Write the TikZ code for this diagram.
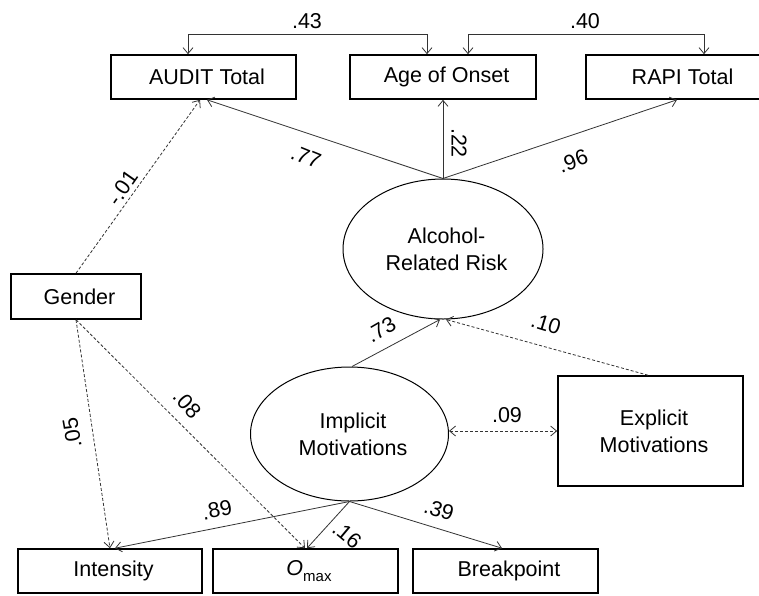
\documentclass[tikz,border=0pt]{standalone}
\usepackage{fontspec}
\setmainfont{Liberation Sans}
\usetikzlibrary{arrows.meta,shapes.geometric}
\newcommand{\rsh}{\hspace*{7pt}}
\begin{document}
\begin{tikzpicture}[x=1pt,y=-1pt,
  font=\fontsize{21.5}{27}\selectfont,
  >={Straight Barb[length=6pt,width=10pt]},
  box/.style={draw=black, line width=1.6pt, rectangle, inner sep=0pt,
    minimum width=185pt, minimum height=44pt, align=center},
  lat/.style={draw=black, line width=1pt, ellipse, inner sep=0pt, align=center},
  conn/.style={draw=black!80, line width=0.8pt, ->},
  dconn/.style={conn, dash pattern=on 3pt off 2pt},
  lab/.style={inner sep=0pt}]
\useasboundingbox (0,0) rectangle (759,595);
\clip (0,0) rectangle (759,595);
\fill[white] (0,0) rectangle (759,595);

% observed / latent variables
\node[box] (audit) at (203.5,77) {\rsh AUDIT Total};
\node[box, minimum width=186pt] (age) at (443,77) {\rsh Age of Onset};
\node[box, minimum width=186pt] (rapi) at (679,77) {\rsh RAPI Total};
\node[box, minimum width=130pt, minimum height=45pt] (gender) at (76,296.5) {\rsh Gender};
\node[lat, minimum width=200pt, minimum height=140pt] (alc) at (443,249) {\rsh Alcohol-\\\rsh Related Risk};
\node[lat, minimum width=198pt, minimum height=134pt] (impl) at (349.5,434) {\rsh Implicit\\\rsh Motivations};
\node[box, minimum height=110pt] (expl) at (650.5,431) {\rsh Explicit\\\rsh Motivations};
\node[box, minimum width=184pt] (intens) at (110,571) {\rsh Intensity};
\node[box] (omax) at (305.5,571) {\rsh{\itshape O}\raisebox{-0.45ex}{\fontsize{15}{15}\selectfont max}};
\node[box] (bp) at (505.5,571) {\rsh Breakpoint};

% correlations on top
\draw[conn,<->] ([xshift=-15.5pt]audit.north) -- ++(0,-20) -| ([xshift=-16pt]age.north);
\draw[conn,<->] ([xshift=25pt]age.north) -- ++(0,-20) -| ([xshift=25pt]rapi.north);
\node[lab] (l43) at (307,21) {.43};
\node[lab] (l40) at (585,21) {.40};

% loadings of alcohol-related risk
\draw[conn] (alc.north) -- ([xshift=3.5pt]audit.south);
\draw[conn] (alc.north) -- (age.south);
\draw[conn] (alc.north) -- ([xshift=-2pt]rapi.south);
\node[lab, rotate=-22] (l77) at (306,157) {.77};
\node[lab, rotate=-90] (l22) at (459,143) {.22};
\node[lab, rotate=20] (l96) at (573,161) {.96};

% gender paths
\draw[dconn] (gender.north) -- ([xshift=-3.5pt]audit.south);
\node[lab, rotate=55] (l01) at (123,188) {-.01};
\draw[dconn] (gender.south) -- (intens.north);
\node[lab, rotate=100] (l05) at (72,433) {.05};
\draw[dconn] (gender.south) -- ([xshift=-0.5pt]omax.north);
\node[lab, rotate=-48] (l08) at (187,404) {.08};

% structural paths
\draw[conn] ([xshift=2.5pt]impl.north) -- ([xshift=-3pt]alc.south);
\node[lab, rotate=30] (l73) at (381,330) {.73};
\draw[dconn] ([xshift=-2.5pt]expl.north) -- ([xshift=3pt]alc.south);
\node[lab, rotate=-17] (l10) at (546,324) {.10};
\draw[dconn,<->] (impl.east |- expl.west) -- (expl.west);
\node[lab] (l09) at (507,415) {.09};

% loadings of implicit motivations
\draw[conn] (impl.south) -- ([xshift=5pt]intens.north);
\node[lab, rotate=11] (l89) at (217,510) {.89};
\draw[conn] (impl.south) -- ([xshift=1.5pt]omax.north);
\node[lab, rotate=-40] (l16) at (347,535) {.16};
\draw[conn] (impl.south) -- ([xshift=-3.5pt]bp.north);
\node[lab, rotate=-17] (l39) at (439,510) {.39};
\end{tikzpicture}
\end{document}
